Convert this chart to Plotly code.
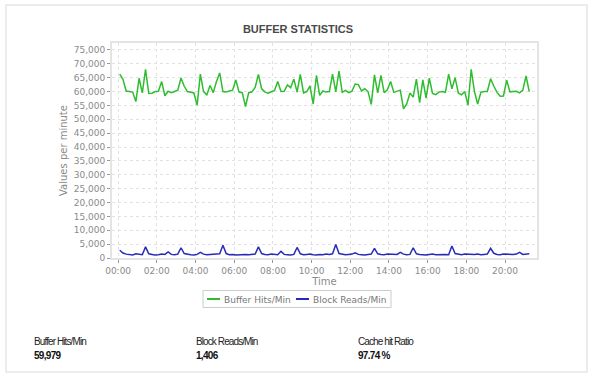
import pandas as pd
import plotly.graph_objects as go

# Time grid (10-minute samples starting 00:05)
times = pd.date_range("2024-01-01 00:05", periods=128, freq="10min")

buffer_hits = [
    66300, 64400, 60200, 60000, 59800, 56400, 64800, 59500, 68000, 59300,
    59400, 60000, 60100, 63600, 58500, 60100, 59600, 60000, 60500, 64900,
    61900, 60000, 59800, 59500, 55100, 66300, 60000, 58800, 62200, 59600,
    63600, 66700, 60000, 59800, 60200, 60500, 64200, 59800, 59600, 54600,
    59600, 59900, 61500, 66200, 61000, 59900, 59400, 60000, 60400, 63600,
    60000, 60100, 62400, 61400, 64500, 59800, 66200, 59500, 60000, 62000,
    55500, 65800, 58600, 60200, 59800, 60000, 66300, 59900, 67400, 59700,
    60400, 59600, 60100, 62700, 62500, 60200, 61000, 60000, 55400, 66000,
    59500, 65800, 59600, 60600, 63600, 59700, 60000, 60500, 53800, 55500,
    59500, 58000, 64500, 56000, 64200, 57600, 64800, 59300, 58900, 59800,
    60000, 59700, 66300, 61000, 65000, 59500, 58800, 60000, 55100, 68000,
    60000, 55500, 59700, 60000, 60000, 64600, 62000, 59700, 58300, 58400,
    64100, 59900, 60000, 60100, 59500, 60500, 65600, 60000,
]

block_reads = [
    2800, 1800, 1400, 1200, 1100, 1500, 1300, 1200, 4000, 1500,
    1300, 1100, 1200, 1400, 1300, 2200, 1300, 1200, 1400, 3700,
    1600, 1300, 1200, 1100, 1300, 2000, 1400, 1200, 1300, 1200,
    1300, 1500, 4600, 1600, 1200, 1300, 1100, 1200, 1400, 1300,
    1200, 1300, 1400, 4000, 1600, 1300, 1200, 1400, 1300, 1200,
    2400, 1300, 1200, 1100, 1300, 3800, 1500, 1200, 1300, 1400,
    1200, 1100, 1300, 1200, 1400, 1300, 1500, 4900, 1600, 1300,
    1200, 1300, 1400, 1900, 1300, 1200, 1100, 1300, 1400, 3500,
    1500, 1300, 1200, 1400, 1300, 1200, 1300, 2000, 1400, 1200,
    1300, 3700, 1500, 1300, 1200, 1100, 1300, 1400, 1200, 1300,
    1400, 1300, 1200, 4300, 1600, 1300, 1200, 1400, 1300, 1200,
    1300, 1400, 1200, 1300, 1400, 3500, 1700, 1300, 1200, 1400,
    1300, 1200, 1300, 1400, 2000, 1300, 1400, 1500,
]

series_names = ["Buffer Hits/Min", "Block Reads/Min"]
series_colors = ["#2ebd2e", "#2a2ab8"]
summary_labels = ["Buffer Hits/Min", "Block Reads/Min", "Cache hit Ratio"]
summary_values = ["59,979", "1,406", "97.74 %"]

W, H = 596, 380
L, R, T, B = 112, 537, 43, 258  # plot area pixel edges
pw, ph = R - L, B - T


def px(xp):
    return (xp - L) / pw


def py(yp):
    return (B - yp) / ph


fig = go.Figure()
fig.add_trace(go.Scatter(x=times, y=buffer_hits, mode="lines", name=series_names[0],
                         line=dict(color=series_colors[0], width=1.5)))
fig.add_trace(go.Scatter(x=times, y=block_reads, mode="lines", name=series_names[1],
                         line=dict(color=series_colors[1], width=1.5)))

tick_font = dict(family="DejaVu Sans", size=9, color="#8a8a8a")

fig.update_layout(
    width=W, height=H,
    margin=dict(l=L, r=W - R, t=T, b=H - B, autoexpand=False),
    paper_bgcolor="white", plot_bgcolor="white",
    title=dict(text="<b>BUFFER STATISTICS</b>", x=0.5, xref="container", xanchor="center",
               y=1 - 29 / H, yref="container", yanchor="middle",
               font=dict(family="Liberation Sans", size=11, color="#4a4a4a")),
    showlegend=False,
    xaxis=dict(type="date", range=["2023-12-31 23:41", "2024-01-01 21:39"],
               tickformat="%H:%M", dtick=2 * 3600 * 1000, tick0="2024-01-01 00:00",
               showgrid=True, gridcolor="#e2e2e2", griddash="dot", gridwidth=1,
               showline=True, linecolor="#e4e4e4", linewidth=2, mirror=True,
               ticks="outside", ticklen=3, tickcolor="#999999", tickfont=tick_font,
               title=dict(text="Time", font=dict(family="DejaVu Sans", size=10, color="#8a8a8a"),
                          standoff=2),
               zeroline=False),
    yaxis=dict(range=[0, 77500], dtick=5000, tickformat=",d",
               showgrid=True, gridcolor="#e2e2e2", griddash="dot", gridwidth=1,
               showline=True, linecolor="#e4e4e4", linewidth=2, mirror=True,
               ticks="outside", ticklen=3, tickcolor="#999999", tickfont=tick_font,
               title=dict(text="Values per minute", font=dict(family="DejaVu Sans", size=10, color="#8a8a8a"),
                          standoff=4),
               zeroline=False),
)

# outer light frame
fig.add_shape(type="rect", xref="paper", yref="paper",
              x0=px(6), x1=px(587), y0=py(372), y1=py(5),
              line=dict(color="#e6e6e6", width=1.5), layer="below")

# legend box (drawn below the chart)
fig.add_shape(type="rect", xref="paper", yref="paper",
              x0=px(203), x1=px(391), y0=py(307.5), y1=py(290.5),
              line=dict(color="#cccccc", width=1), fillcolor="white")
leg_line_x = [207, 296]
leg_text_x = [222, 311]
for lx, tx, name, col in zip(leg_line_x, leg_text_x, series_names, series_colors):
    fig.add_shape(type="line", xref="paper", yref="paper",
                  x0=px(lx), x1=px(lx + 13), y0=py(299), y1=py(299),
                  line=dict(color=col, width=2))
    fig.add_annotation(xref="paper", yref="paper", x=px(tx), y=py(299.5),
                       xanchor="left", yanchor="middle", text=name, showarrow=False,
                       font=dict(family="DejaVu Sans", size=9, color="#777777"))

stat_x = [32, 194, 356]
for sx, lab, val in zip(stat_x, summary_labels, summary_values):
    fig.add_annotation(xref="paper", yref="paper", x=px(sx), y=py(341.5), xanchor="left", yanchor="middle",
                       text="<span style='letter-spacing:-0.9px'>" + lab + "</span>", showarrow=False,
                       font=dict(family="Liberation Sans", size=10, color="#222222"))
    fig.add_annotation(xref="paper", yref="paper", x=px(sx), y=py(355), xanchor="left", yanchor="middle",
                       text="<span style='letter-spacing:-0.7px'><b>" + val + "</b></span>", showarrow=False,
                       font=dict(family="Liberation Sans", size=10, color="#111111"))

fig.write_html("out.html", config={"displayModeBar": False},
               post_script="document.body.style.margin='0px';")
